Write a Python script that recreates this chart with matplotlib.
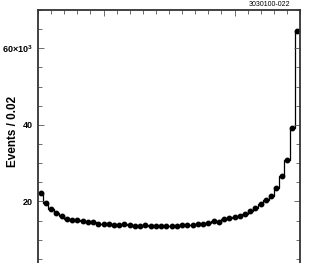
import numpy as np
import matplotlib
matplotlib.use('Agg')
import matplotlib.pyplot as plt
from matplotlib.ticker import MultipleLocator, FixedLocator, FixedFormatter

# events per 0.02 bin (thousands), 50 bins from 0 to 1
counts = [22.1, 19.7, 18.0, 16.9, 16.2, 15.4, 15.2, 15.1, 14.8, 14.7,
          14.6, 14.2, 14.2, 14.1, 13.9, 13.9, 14.05, 13.9, 13.5, 13.7,
          13.8, 13.5, 13.6, 13.6, 13.6, 13.5, 13.7, 13.9, 13.9, 13.9,
          14.05, 14.05, 14.4, 14.9, 14.7, 15.35, 15.6, 15.9, 16.2, 16.7,
          17.6, 18.3, 19.3, 20.4, 21.5, 23.6, 26.6, 30.7, 39.1, 64.6]
bin_width = 0.02
y_ticks = [20, 40, 60]
y_labels = ['20', '40', r'60$\times$10$^{3}$']
tag = '3030100-022'

edges = np.arange(len(counts) + 1) * bin_width
centers = edges[:-1] + bin_width / 2

plt.rcParams['font.family'] = ['Liberation Sans', 'DejaVu Sans']
plt.rcParams['mathtext.fontset'] = 'custom'
plt.rcParams['mathtext.rm'] = 'Liberation Sans:bold'

fig = plt.figure(figsize=(3.13, 2.63), dpi=100)
ax = fig.add_axes([38 / 313, -15 / 263, 262 / 313, 268 / 263])

ax.stairs(counts, edges, baseline=None, color='black', linewidth=0.9)
ax.plot(centers, counts, 'o', color='black', markersize=3.2)

ax.set_xlim(0, 1)
ax.set_ylim(0, 70)

ax.yaxis.set_major_locator(FixedLocator(y_ticks))
ax.yaxis.set_major_formatter(FixedFormatter(y_labels))
ax.yaxis.set_minor_locator(MultipleLocator(5))
ax.xaxis.set_major_locator(FixedLocator([0.25, 0.75]))
ax.xaxis.set_minor_locator(MultipleLocator(0.05))

ax.tick_params(which='both', direction='in', top=True, right=True, bottom=False,
               labelbottom=False, color='#555555', width=0.6)
ax.tick_params(which='major', length=4.5, labelsize=6.5, pad=3.5)
ax.tick_params(which='minor', length=3)
for lab in ax.get_yticklabels():
    lab.set_fontweight('bold')

for sp in ax.spines.values():
    sp.set_linewidth(1.3)
    sp.set_color('#333333')

fig.text(13 / 313, 1 - 131 / 263, 'Events / 0.02', rotation=90, fontsize=8.5,
         fontweight='bold', ha='center', va='center')

fig.text(290 / 313, 1 - 5 / 263, tag, fontsize=5, ha='right', va='center')

fig.savefig('out.png', dpi=100)
